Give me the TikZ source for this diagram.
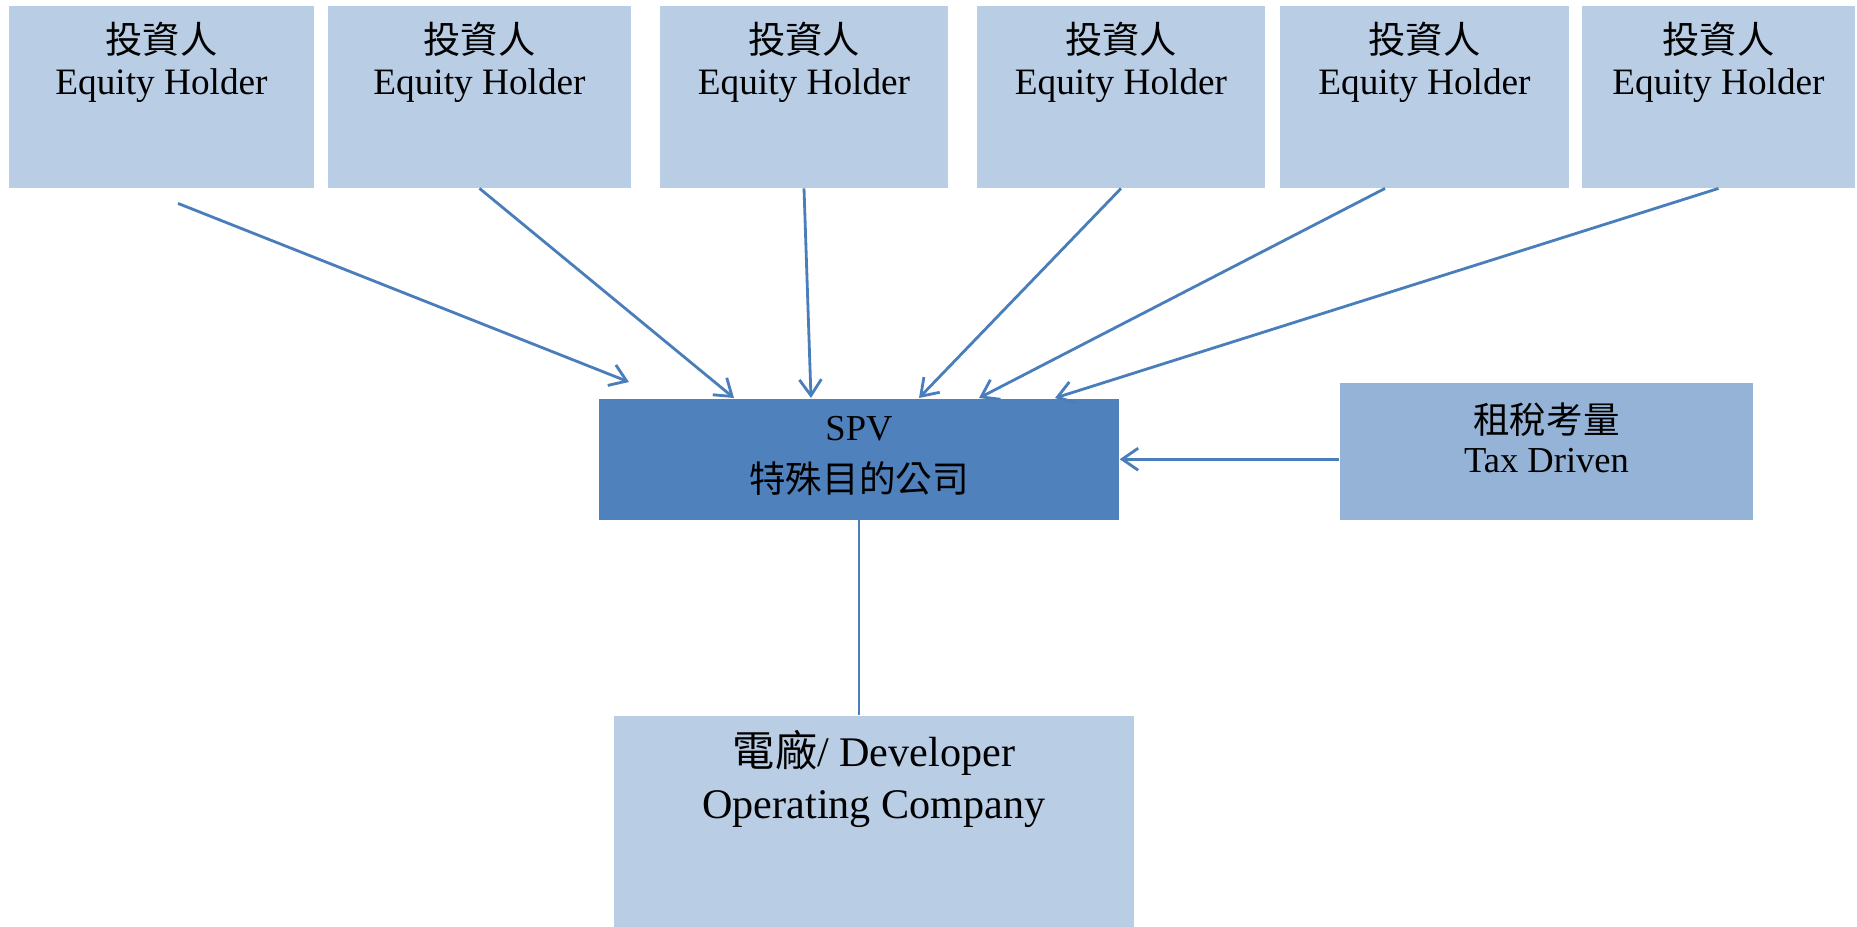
\documentclass[tikz,border=0pt]{standalone}
\usepackage{fontspec}
\setmainfont{Liberation Serif}
\newfontfamily\cjk{Noto Sans CJK TC}
\usetikzlibrary{arrows.meta}
\definecolor{holderblue}{HTML}{B9CDE5}
\definecolor{spvblue}{HTML}{4F81BD}
\definecolor{taxblue}{HTML}{95B3D7}
\definecolor{linkblue}{HTML}{4A7EBB}

\begin{document}
\begin{tikzpicture}[box/.style={anchor=north, inner sep=0pt, align=center},
  holder/.style={box, fill=holderblue, minimum width=#1, text height=0.89cm, text depth=0.93cm, font=\fontsize{10.6}{11.6}\selectfont},
  link/.style={draw=linkblue, line width=0.8pt},
  feed/.style={link, -{Straight Barb[length=1.6mm,width=2.2mm]}}]
\useasboundingbox (0,0) rectangle (18.57,-9.26);
\node[holder=3.05cm] (h1) at (1.615,-0.05) {{\cjk 投資人}\\Equity Holder};
\node[holder=3.03cm] (h2) at (4.795,-0.05) {{\cjk 投資人}\\Equity Holder};
\node[holder=2.88cm] (h3) at (8.04,-0.05) {{\cjk 投資人}\\Equity Holder};
\node[holder=2.88cm] (h4) at (11.21,-0.05) {{\cjk 投資人}\\Equity Holder};
\node[holder=2.89cm] (h5) at (14.245,-0.05) {{\cjk 投資人}\\Equity Holder};
\node[holder=2.73cm] (h6) at (17.185,-0.05) {{\cjk 投資人}\\Equity Holder};
\node[box, fill=spvblue, minimum width=5.2cm, text height=0.94cm, text depth=0.27cm, font=\fontsize{10.4}{14.8}\selectfont] (spv) at (8.59,-3.98) {SPV\\{\cjk 特殊目的公司}};
\node[box, fill=taxblue, minimum width=4.13cm, text height=0.90cm, text depth=0.47cm, font=\fontsize{10.4}{11.1}\selectfont] (tax) at (15.465,-3.82) {{\cjk 租稅考量}\\Tax Driven};
\node[box, fill=holderblue, minimum width=5.2cm, text height=1.03cm, text depth=1.08cm, font=\fontsize{12}{14.8}\selectfont] (dev) at (8.74,-7.15) {{\cjk 電廠}/ Developer\\Operating Company};
\draw[feed] ([xshift=0.165cm,yshift=-0.15cm]h1.south) -- ([xshift=-2.30cm,yshift=0.16cm]spv.north);
\draw[feed] (h2.south) -- ([xshift=-1.25cm]spv.north);
\draw[feed] (h3.south) -- ([xshift=-0.48cm]spv.north);
\draw[feed] (h4.south) -- ([xshift=0.60cm]spv.north);
\draw[feed] ([xshift=-0.395cm]h5.south) -- ([xshift=1.20cm]spv.north);
\draw[feed] (h6.south) -- ([xshift=1.96cm]spv.north);
\draw[feed] (tax.west |- spv.east) -- (spv.east);
\draw[link] (spv.south) -- (spv.south |- dev.north);
\end{tikzpicture}
\end{document}
